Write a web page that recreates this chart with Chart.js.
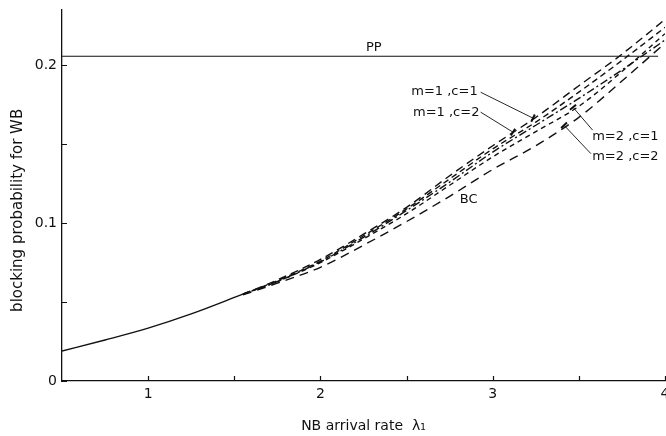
<!DOCTYPE html>
<html lang="en">
<head>
<meta charset="UTF-8">
<title>Blocking probability for WB</title>
<script src="https://cdn.jsdelivr.net/npm/chart.js@4.4.1/dist/chart.umd.min.js"></script>
<style>
  html, body { margin: 0; padding: 0; background: #fff; }
  .chart-wrap { position: relative; width: 666px; height: 436px; }
</style>
</head>
<body>
<div class="chart-wrap"><canvas id="blockChart"></canvas></div>
<script>
// NB arrival rate (lambda_1) vs blocking probability for WB
const lambdaShared = [0.5, 0.75, 1.0, 1.25, 1.55];
const blockShared  = [0.019, 0.026, 0.0335, 0.0425, 0.055];

const lambdaSplit = [1.55, 1.75, 2.0, 2.25, 2.5, 2.75, 3.0, 3.25, 3.5, 3.75, 4.0];
const blockM1C1 = [0.055, 0.064, 0.077, 0.093, 0.110, 0.130, 0.149, 0.167, 0.187, 0.207, 0.229];
const blockM1C2 = [0.055, 0.0635, 0.076, 0.092, 0.109, 0.128, 0.147, 0.164, 0.183, 0.203, 0.224];
const blockM2C1 = [0.055, 0.063, 0.0755, 0.091, 0.108, 0.126, 0.145, 0.162, 0.179, 0.197, 0.216];
const blockM2C2 = [0.055, 0.063, 0.075, 0.090, 0.106, 0.124, 0.142, 0.158, 0.174, 0.196, 0.220];
const blockBC   = [0.0545, 0.062, 0.072, 0.086, 0.101, 0.117, 0.134, 0.149, 0.167, 0.190, 0.214];

const lambdaPP = [0.5, 3.96];
const blockPP  = [0.2057, 0.2057];

const xTicks = [1, 1.5, 2, 2.5, 3, 3.5, 4];
const xTickLabels = ['1', '', '2', '', '3', '', '4'];
const yTicks = [0, 0.05, 0.1, 0.15, 0.2];
const yTickLabels = ['0', '', '0.1', '', '0.2'];

// curve labels, placed in data units; lead = [x0, y0, x1, y1] pointer line
const notes = [
  { text: 'PP', x: 2.31, y: 0.211 },
  { text: 'BC', x: 2.86, y: 0.115 },
  { text: 'm=1 ,c=1', x: 2.72, y: 0.1835, lead: [2.93, 0.1829, 3.234, 0.1665] },
  { text: 'm=1 ,c=2', x: 2.73, y: 0.170,  lead: [2.93, 0.1703, 3.118, 0.1576] },
  { text: 'm=2 ,c=1', x: 3.77, y: 0.155,  lead: [3.58, 0.1589, 3.466, 0.1734] },
  { text: 'm=2 ,c=2', x: 3.77, y: 0.142,  lead: [3.57, 0.1440, 3.414, 0.1620] }
];

const FONT = 'DejaVu Sans';
const toPoints = (xs, ys) => xs.map((x, i) => ({ x: x, y: ys[i] }));

function curve(label, xs, ys, dash) {
  return {
    label: label,
    data: toPoints(xs, ys),
    borderColor: '#111',
    borderWidth: 1.4,
    borderDash: dash,
    pointRadius: 0,
    cubicInterpolationMode: 'monotone',
    fill: false
  };
}

// inward tick marks, curve labels and the rotated y title
const decorations = {
  id: 'decorations',
  afterDraw(chart) {
    const ctx = chart.ctx;
    const xs = chart.scales.x, ys = chart.scales.y;
    const area = chart.chartArea;
    ctx.save();
    ctx.strokeStyle = '#111';
    ctx.lineWidth = 1.2;
    ctx.beginPath();
    xTicks.forEach(v => {
      const px = Math.round(xs.getPixelForValue(v)) + 0.5;
      ctx.moveTo(px, area.bottom);
      ctx.lineTo(px, area.bottom - 5);
    });
    yTicks.forEach(v => {
      const py = Math.round(ys.getPixelForValue(v)) + 0.5;
      ctx.moveTo(area.left, py);
      ctx.lineTo(area.left + 5, py);
    });
    ctx.stroke();

    ctx.fillStyle = '#111';
    ctx.font = '13px "' + FONT + '"';
    ctx.textAlign = 'center';
    ctx.textBaseline = 'middle';
    notes.forEach(n => {
      ctx.fillText(n.text, xs.getPixelForValue(n.x), ys.getPixelForValue(n.y));
      if (!n.lead) return;
      const x0 = xs.getPixelForValue(n.lead[0]), y0 = ys.getPixelForValue(n.lead[1]);
      const x1 = xs.getPixelForValue(n.lead[2]), y1 = ys.getPixelForValue(n.lead[3]);
      ctx.lineWidth = 0.9;
      ctx.beginPath();
      ctx.moveTo(x0, y0);
      ctx.lineTo(x1, y1);
      ctx.stroke();
      // short bar across the curves at the pointer end
      const len = Math.hypot(x1 - x0, y1 - y0);
      const nx = -(y1 - y0) / len * 4, ny = (x1 - x0) / len * 4;
      ctx.lineWidth = 2;
      ctx.beginPath();
      ctx.moveTo(x1 - nx, y1 - ny);
      ctx.lineTo(x1 + nx, y1 + ny);
      ctx.stroke();
    });

    ctx.font = '15px "' + FONT + '"';
    ctx.translate(18, area.top + (area.bottom - area.top) * 0.54);
    ctx.rotate(-Math.PI / 2);
    ctx.fillText('blocking probability for WB', 0, 0);
    ctx.restore();
  }
};

new Chart(document.getElementById('blockChart'), {
  type: 'line',
  data: {
    datasets: [
      curve('shared', lambdaShared, blockShared, []),
      curve('m=1,c=1', lambdaSplit, blockM1C1, [8, 5]),
      curve('m=1,c=2', lambdaSplit, blockM1C2, [6, 4]),
      curve('m=2,c=1', lambdaSplit, blockM2C1, [8, 3, 2, 3]),
      curve('m=2,c=2', lambdaSplit, blockM2C2, [5, 4]),
      curve('BC', lambdaSplit, blockBC, [9, 6]),
      Object.assign(curve('PP', lambdaPP, blockPP, []), { borderWidth: 1.2, cubicInterpolationMode: 'default' })
    ]
  },
  options: {
    responsive: true,
    maintainAspectRatio: false,
    animation: false,
    layout: { padding: { top: 10, right: 1, left: 0, bottom: 0 } },
    plugins: { legend: { display: false }, tooltip: { enabled: false } },
    scales: {
      x: {
        type: 'linear',
        min: 0.5,
        max: 4,
        afterFit: s => { s.height = 55; s.paddingLeft = 0; s.paddingRight = 0; },
        afterBuildTicks: s => { s.ticks = xTicks.map(v => ({ value: v })); },
        grid: { display: false, drawTicks: false },
        border: { display: true, color: '#111', width: 1.3 },
        ticks: {
          color: '#111',
          padding: 5,
          maxRotation: 0,
          font: { family: FONT, size: 14 },
          callback: (v, i) => xTickLabels[xTicks.indexOf(v)] || ''
        },
        title: {
          display: true,
          text: 'NB arrival rate  λ₁',
          color: '#111',
          font: { family: FONT, size: 14 },
          padding: { top: 0, bottom: 1 }
        }
      },
      y: {
        type: 'linear',
        min: 0,
        max: 0.235,
        afterFit: s => { s.width = 62; s.paddingTop = 0; s.paddingBottom = 0; },
        afterBuildTicks: s => { s.ticks = yTicks.map(v => ({ value: v })); },
        grid: { display: false, drawTicks: false },
        border: { display: true, color: '#111', width: 1.3 },
        ticks: {
          color: '#111',
          padding: 5,
          font: { family: FONT, size: 14 },
          callback: v => yTickLabels[yTicks.indexOf(v)] || ''
        }
      }
    }
  },
  plugins: [decorations]
});
</script>
</body>
</html>
